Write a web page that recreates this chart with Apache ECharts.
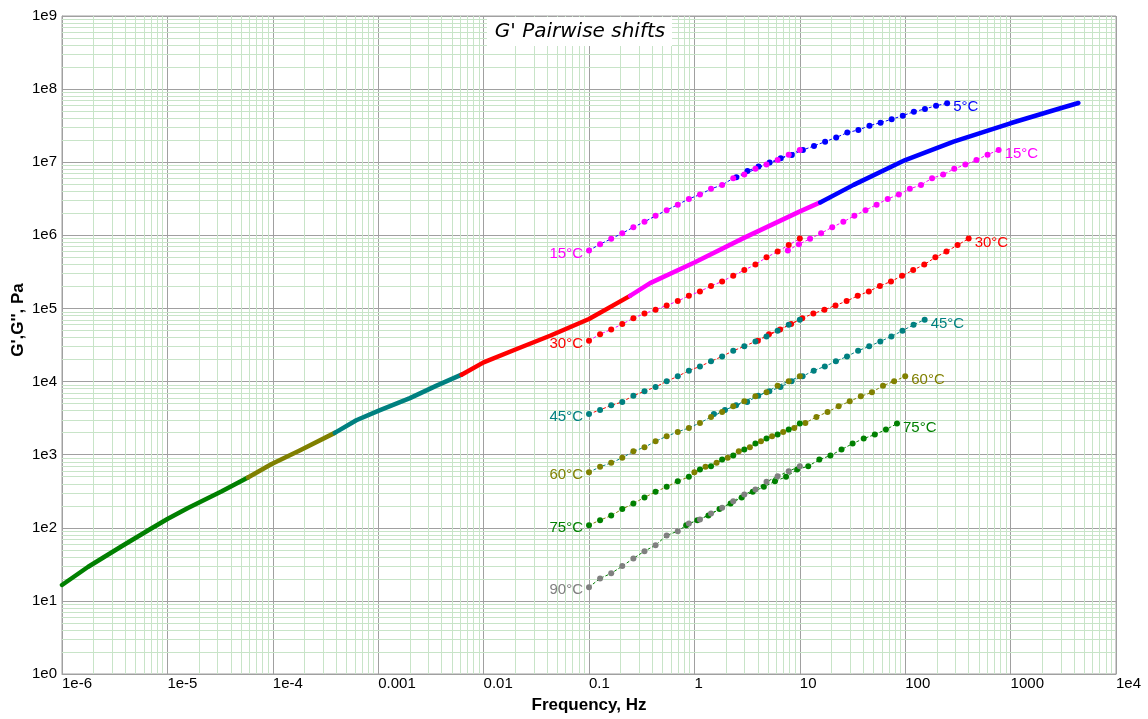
<!DOCTYPE html>
<html>
<head>
<meta charset="utf-8">
<script src="https://cdn.jsdelivr.net/npm/echarts@6/dist/echarts.min.js"></script>
<style>
html,body{margin:0;padding:0;background:#fff;}
#chart{width:1148px;height:719px;}
</style>
</head>
<body>
<div id="chart"></div>
<script>
// ---------- DATA ----------
const xTickLabels = ['1e-6','1e-5','1e-4','0.001','0.01','0.1','1','10','100','1000','1e4'];
const yTickLabels = ['1e0','1e1','1e2','1e3','1e4','1e5','1e6','1e7','1e8','1e9'];

// measured frequencies (Hz) of each temperature's sweep
const freqs = [0.1,0.1274,0.1624,0.2069,0.2637,0.336,0.4281,0.5456,0.6952,0.8859,
               1.129,1.438,1.833,2.336,2.976,3.793,4.833,6.158,7.848,10];

// G' values (Pa) per temperature
const g5  = [6.24e6,7.6e6,8.71e6,9.88e6,1.135e7,1.26e7,1.47e7,1.67e7,1.91e7,2.18e7,
             2.54e7,2.76e7,3.16e7,3.48e7,3.87e7,4.33e7,4.91e7,5.35e7,5.93e7,6.4e7];
const g15 = [6.2e5,7.58e5,8.95e5,1.07e6,1.29e6,1.53e6,1.85e6,2.21e6,2.63e6,3.15e6,
             3.61e6,4.32e6,4.89e6,6.04e6,6.77e6,8.11e6,9.28e6,1.07e7,1.27e7,1.47e7];
const g30 = [3.62e4,4.45e4,5.15e4,6.12e4,7.35e4,8.52e4,9.6e4,1.1e5,1.26e5,1.49e5,
             1.71e5,2.03e5,2.34e5,2.8e5,3.35e5,3.98e5,5.0e5,6.0e5,7.35e5,9.04e5];
const g45 = [3.61e3,4.09e3,4.73e3,5.26e3,6.42e3,7.35e3,8.44e3,1.006e4,1.18e4,1.41e4,
             1.61e4,1.89e4,2.21e4,2.64e4,3.03e4,3.54e4,4.14e4,4.96e4,5.99e4,7.01e4];
const g60 = [575,681,773,904,1112,1262,1524,1783,2048,2323,
             2719,3283,3845,4581,5370,6281,7115,8790,10060,11800];
const g75 = [108.6,127,147,180,215,260,310,363,433,497,
             626,695,857,972,1175,1419,1660,1883,2203,2660];
const g90 = [15.4,20.3,23.8,29.9,38.1,47.9,57.8,78.5,89.9,114.5,
             129.8,156.8,187.6,230.7,285,333,425,507,593,695];

// pairwise horizontal shift factors (colder curve shifted onto warmer one)
const shift5on15  = 25;
const shift15on30 = 77;
const shift30on45 = 40;
const shift45on60 = 15.3;
const shift60on75 = 10;
const shift75on90 = 8.36;

// master curve segments [f (Hz), G' (Pa)]
const master75 = [[1e-6,16.5],[1.76e-6,29.1],[3.65e-6,55.5],[7.03e-6,97.8],[1e-5,131.9],[1.567e-5,186.4],[3.25e-5,313],[5.81e-5,487]];
const master60 = [[5.81e-5,487],[9.76e-5,744],[1.8e-4,1138],[3.87e-4,1986]];
const master45 = [[3.87e-4,1986],[6.2e-4,2951],[1e-3,3966],[2e-3,5930],[3.58e-3,8790],[6.18e-3,12420]];
const master30 = [[6.18e-3,12420],[0.01,18280],[0.0206,27860],[0.0427,42360],[0.1,71660],[0.245,148500]];
const master15 = [[0.245,148500],[0.38,222200],[1.0,425000],[2.92,916000],[9.93,2.11e6],[15.6,2.82e6]];
const master5  = [[15.6,2.82e6],[32.4,4.9e6],[100,1.07e7],[288,1.91e7],[995,3.41e7],[2970,5.47e7],[4400,6.46e7]];

// ---------- STYLE ----------
const C = {
  t5:'#0000ff', t15:'#ff00ff', t30:'#ff0000', t45:'#008080',
  t60:'#808000', t75:'#008000', t90:'#808080'
};
const FONT = 'Liberation Sans';

function pts(f, g, k, labelText, labelColor, side) {
  return g.map((v, i) => {
    const item = { value: [f[i] * k, v] };
    const isEdge = side === 'left' ? i === 0 : i === g.length - 1;
    if (labelText && isEdge) {
      item.label = {
        show: true, position: side, distance: 3, formatter: labelText,
        color: labelColor, fontFamily: FONT, fontSize: 15,
        offset: side === 'left' ? [0, 3] : [0, 4]
      };
    }
    return item;
  });
}
function dotSeries(data, dotColor, lineColor) {
  return {
    type: 'line', data: data, symbol: 'circle', symbolSize: 6, showSymbol: true,
    itemStyle: { color: dotColor }, lineStyle: { color: lineColor, width: 1, type: [3, 2] },
    z: 4, silent: true, animation: false
  };
}
function masterSeries(data, color) {
  return {
    type: 'line', data: data, showSymbol: false, symbol: 'none', smooth: false,
    lineStyle: { color: color, width: 4.5, join: 'round', cap: 'round' },
    z: 3, silent: true, animation: false
  };
}

// minor grid positions (2..9 within each decade)
const minorSegs = [];
for (let e = -6; e < 4; e++) for (let m = 2; m <= 9; m++) {
  const v = m * Math.pow(10, e);
  minorSegs.push({ coords: [[v, 1], [v, 1e9]] });
}
for (let e = 0; e < 9; e++) for (let m = 2; m <= 9; m++) {
  const v = m * Math.pow(10, e);
  minorSegs.push({ coords: [[1e-6, v], [1e4, v]] });
}

const series = [
  {
    type: 'lines', coordinateSystem: 'cartesian2d', data: minorSegs, silent: true, z: 1,
    animation: false, symbol: ['none', 'none'],
    lineStyle: { color: '#c8e4c8', width: 1, opacity: 1, curveness: 0 }
  },
  masterSeries(master75, C.t75),
  masterSeries(master60, C.t60),
  masterSeries(master45, C.t45),
  masterSeries(master30, C.t30),
  masterSeries(master15, C.t15),
  masterSeries(master5,  C.t5),
  // pair 5 / 15
  dotSeries(pts(freqs, g5, shift5on15, '5°C', C.t5, 'right'), C.t5, C.t5),
  dotSeries(pts(freqs, g15, 1, '15°C', C.t15, 'left'), C.t15, C.t5),
  // pair 15 / 30
  dotSeries(pts(freqs, g15, shift15on30, '15°C', C.t15, 'right'), C.t15, C.t15),
  dotSeries(pts(freqs, g30, 1, '30°C', C.t30, 'left'), C.t30, C.t15),
  // pair 30 / 45
  dotSeries(pts(freqs, g30, shift30on45, '30°C', C.t30, 'right'), C.t30, C.t30),
  dotSeries(pts(freqs, g45, 1, '45°C', C.t45, 'left'), C.t45, C.t30),
  // pair 45 / 60
  dotSeries(pts(freqs, g45, shift45on60, '45°C', C.t45, 'right'), C.t45, C.t45),
  dotSeries(pts(freqs, g60, 1, '60°C', C.t60, 'left'), C.t60, C.t45),
  // pair 60 / 75
  dotSeries(pts(freqs, g60, shift60on75, '60°C', C.t60, 'right'), C.t60, C.t60),
  dotSeries(pts(freqs, g75, 1, '75°C', C.t75, 'left'), C.t75, C.t60),
  // pair 75 / 90
  dotSeries(pts(freqs, g75, shift75on90, '75°C', C.t75, 'right'), C.t75, C.t75),
  dotSeries(pts(freqs, g90, 1, '90°C', C.t90, 'left'), C.t90, C.t75)
];

const chart = echarts.init(document.getElementById('chart'), null, { renderer: 'canvas' });
chart.setOption({
  animation: false,
  backgroundColor: '#ffffff',
  grid: { left: 62, right: 32, top: 16, bottom: 44, show: true, borderColor: '#a0a0a0', borderWidth: 1, containLabel: false },
  xAxis: {
    type: 'log', logBase: 10, min: 1e-6, max: 1e4, interval: 1,
    name: 'Frequency, Hz', nameLocation: 'middle', nameGap: 23,
    nameTextStyle: { fontFamily: FONT, fontSize: 17, fontWeight: 'bold', color: '#000' },
    axisLine: { show: true, lineStyle: { color: '#a0a0a0', width: 1 } },
    axisTick: { show: false },
    axisLabel: {
      margin: 2, align: 'left', color: '#000', fontFamily: FONT, fontSize: 15,
      showMinLabel: true, showMaxLabel: true, interval: 0, hideOverlap: false,
      formatter: v => xTickLabels[Math.round(Math.log10(v)) + 6]
    },
    splitLine: { show: true, interval: 0, lineStyle: { color: '#a0a0a0', width: 1 } }
  },
  yAxis: {
    type: 'log', logBase: 10, min: 1, max: 1e9, interval: 1,
    axisLine: { show: true, lineStyle: { color: '#a0a0a0', width: 1 } },
    axisTick: { show: false },
    axisLabel: {
      margin: 5, color: '#000', fontFamily: FONT, fontSize: 15,
      showMinLabel: true, showMaxLabel: true, interval: 0, hideOverlap: false,
      formatter: v => yTickLabels[Math.round(Math.log10(v))]
    },
    splitLine: { show: true, interval: 0, lineStyle: { color: '#a0a0a0', width: 1 } }
  },
  graphic: [
    { type: 'rect', z: 100, shape: { x: 487, y: 17, width: 185, height: 29 }, style: { fill: '#ffffff' } },
    { type: 'text', z: 101, x: 580, y: 32,
      style: { text: "G' Pairwise shifts", font: 'italic 20px "DejaVu Sans"', fill: '#000', align: 'center', verticalAlign: 'middle' } },
    { type: 'text', z: 101, x: 18, y: 320, rotation: Math.PI / 2,
      style: { text: "G',G'', Pa", font: 'bold 17px "Liberation Sans"', fill: '#000', align: 'center', verticalAlign: 'middle' } }
  ],
  series: series
});
</script>
</body>
</html>
